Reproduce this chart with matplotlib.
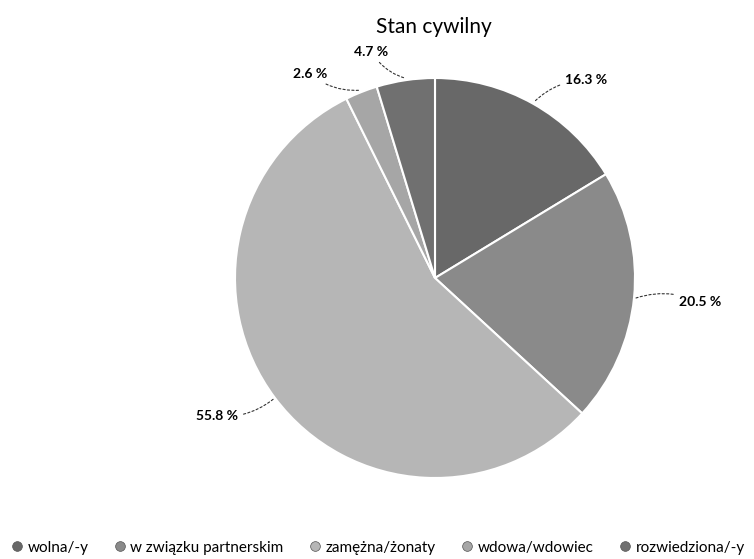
import numpy as np
import matplotlib.pyplot as plt
from matplotlib.lines import Line2D

plt.rcParams['font.family'] = ['Lato', 'DejaVu Sans']

# dane
categories = ['wolna/-y', 'w związku partnerskim', 'zamężna/żonaty', 'wdowa/wdowiec', 'rozwiedziona/-y']
values = [16.3, 20.5, 55.8, 2.6, 4.7]
colors = ['#686868', '#8a8a8a', '#b6b6b6', '#a6a6a6', '#707070']

# pozycje etykiet: (przesunięcie kąta, promień)
label_pos = [(-8, 1.245), (0.4, 1.33), (-4.5, 1.29), (9.8, 1.195), (7.2, 1.176)]

fig = plt.figure(figsize=(7.54, 5.59), dpi=100)
ax = fig.add_axes([0, 0, 1, 1])

R = 200  # promień w pikselach
cx, cy = 435, 278
wedges, _ = ax.pie(values, colors=colors, startangle=90, counterclock=False,
                   wedgeprops=dict(edgecolor='white', linewidth=1.5))
ax.set_xlim(-cx / R, (754 - cx) / R)
ax.set_ylim(-(559 - cy) / R, cy / R)
ax.set_aspect('auto')
ax.axis('off')

for w, v, (da, r) in zip(wedges, values, label_pos):
    mid = (w.theta1 + w.theta2) / 2
    a0 = np.deg2rad(mid)
    a1 = np.deg2rad(mid + da)
    xy = (1.01 * np.cos(a0), 1.01 * np.sin(a0))
    tx, ty = r * np.cos(a1), r * np.sin(a1)
    ax.annotate(f'{v} %', xy=xy, xytext=(tx, ty), ha='center', va='center',
                fontsize=10, fontweight='bold',
                arrowprops=dict(arrowstyle='-', linestyle=(0, (2, 2)), lw=0.8,
                                color='#333333', shrinkA=2, shrinkB=0,
                                connectionstyle='arc3,rad=0.2'))

fig.text(0.576, 0.952, 'Stan cywilny', ha='center', va='center', fontsize=15)

handles = [Line2D([], [], marker='o', linestyle='', markersize=7,
                  markerfacecolor=c, markeredgecolor='#555555', markeredgewidth=0.5)
           for c in colors]
fig.legend(handles, categories, loc='center', bbox_to_anchor=(0.5, 0.02),
           ncol=5, frameon=False, fontsize=11, handletextpad=0.2,
           columnspacing=1.55, handlelength=1.0)

fig.savefig('out.png', dpi=100)
